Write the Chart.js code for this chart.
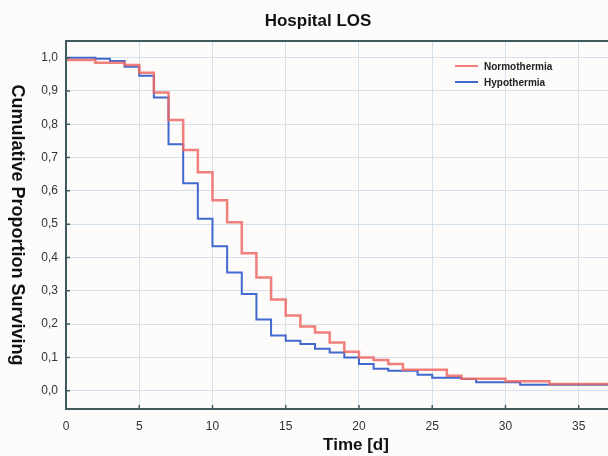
<!DOCTYPE html>
<html>
<head>
<meta charset="utf-8">
<script src="https://cdn.jsdelivr.net/npm/chart.js@4.4.1/dist/chart.umd.min.js"></script>
<style>
  body { margin: 0; background: #fdfcfb; }
  #wrap { width: 608px; height: 456px; position: relative; }
</style>
</head>
<body>
<div id="wrap"><canvas id="los-chart"></canvas></div>
<script>
// Kaplan-Meier steps (time in days, proportion surviving)
const normoTimes = [0, 2, 4, 5, 6, 7, 8, 9, 10, 11, 12, 13, 14, 15, 16, 17, 18, 19, 20, 21, 22, 23, 26, 27, 30, 33, 37];
const normoValues = [0.993, 0.985, 0.978, 0.955, 0.895, 0.813, 0.723, 0.656, 0.572, 0.506, 0.413, 0.34, 0.274, 0.226, 0.193, 0.175, 0.145, 0.117, 0.1, 0.092, 0.08, 0.063, 0.045, 0.036, 0.028, 0.02, 0.02];

const hypoTimes = [0, 2, 3, 4, 5, 6, 7, 8, 9, 10, 11, 12, 13, 14, 15, 16, 17, 18, 19, 20, 21, 22, 24, 25, 27, 28, 31, 37];
const hypoValues = [1.0, 0.997, 0.99, 0.973, 0.946, 0.88, 0.74, 0.623, 0.516, 0.434, 0.355, 0.29, 0.214, 0.166, 0.15, 0.14, 0.126, 0.115, 0.1, 0.08, 0.066, 0.06, 0.048, 0.039, 0.035, 0.025, 0.018, 0.018];

const seriesNames = ["Normothermia", "Hypothermia"];
const xTicks = [0, 5, 10, 15, 20, 25, 30, 35];
const yTicks = [0, 0.1, 0.2, 0.3, 0.4, 0.5, 0.6, 0.7, 0.8, 0.9, 1.0];

const redColor = "rgba(238, 104, 100, 0.85)";
const blueColor = "rgba(40, 84, 200, 0.88)";
const frameColor = "#3e5c5e";
const gridColor = "#d5e1ec";

function toPoints(ts, vs) {
  return ts.map((t, i) => ({ x: t, y: vs[i] }));
}

// frame, inner tick marks, titles and legend
const decorations = {
  id: "decorations",
  afterDraw(chart) {
    const ctx = chart.ctx;
    const a = chart.chartArea;
    const xs = chart.scales.x, ys = chart.scales.y;
    ctx.save();

    ctx.strokeStyle = frameColor;
    ctx.lineWidth = 2;
    ctx.beginPath();
    ctx.moveTo(a.right + 2, a.top);
    ctx.lineTo(a.left, a.top);
    ctx.lineTo(a.left, a.bottom);
    ctx.lineTo(a.right + 2, a.bottom);
    ctx.stroke();

    ctx.lineWidth = 1.5;
    ctx.beginPath();
    yTicks.forEach(v => {
      const py = ys.getPixelForValue(v);
      ctx.moveTo(a.left, py);
      ctx.lineTo(a.left + 4, py);
    });
    xTicks.forEach(v => {
      const px = xs.getPixelForValue(v);
      ctx.moveTo(px, a.bottom);
      ctx.lineTo(px, a.bottom - 4);
    });
    ctx.stroke();

    ctx.fillStyle = "#111";
    ctx.textAlign = "center";
    ctx.textBaseline = "alphabetic";
    ctx.font = "bold 17px 'Liberation Sans', Arial, sans-serif";
    ctx.fillText("Hospital LOS", 318, 26);
    ctx.fillText("Time [d]", 356, 450);

    ctx.save();
    ctx.translate(17, 225);
    ctx.rotate(Math.PI / 2);
    ctx.textBaseline = "middle";
    ctx.font = "bold 18px 'Liberation Sans', Arial, sans-serif";
    ctx.fillText("Cumulative Proportion Surviving", 0, 0);
    ctx.restore();

    const legendColors = [redColor, blueColor];
    ctx.font = "bold 10px 'Liberation Sans', Arial, sans-serif";
    ctx.textAlign = "left";
    ctx.textBaseline = "middle";
    seriesNames.forEach((name, i) => {
      const ly = 66 + i * 16;
      ctx.strokeStyle = legendColors[i];
      ctx.lineWidth = 2;
      ctx.beginPath();
      ctx.moveTo(455, ly);
      ctx.lineTo(478, ly);
      ctx.stroke();
      ctx.fillStyle = "#222";
      ctx.fillText(name, 484, ly + 1);
    });

    ctx.restore();
  }
};

const ctx = document.getElementById("los-chart").getContext("2d");
new Chart(ctx, {
  type: "line",
  data: {
    datasets: [
      {
        label: seriesNames[0],
        data: toPoints(normoTimes, normoValues),
        borderColor: redColor,
        borderWidth: 2.5,
        stepped: true,
        pointRadius: 0,
        fill: false
      },
      {
        label: seriesNames[1],
        data: toPoints(hypoTimes, hypoValues),
        borderColor: blueColor,
        borderWidth: 2,
        stepped: true,
        pointRadius: 0,
        fill: false
      }
    ]
  },
  options: {
    responsive: true,
    maintainAspectRatio: false,
    animation: false,
    layout: { padding: { top: 41, right: 0, bottom: 0, left: 0 } },
    plugins: {
      legend: { display: false },
      title: { display: false },
      tooltip: { enabled: false }
    },
    scales: {
      x: {
        type: "linear",
        min: 0,
        max: 37,
        afterBuildTicks: scale => { scale.ticks = xTicks.map(v => ({ value: v })); },
        afterFit: scale => { scale.height = 47; },
        grid: { color: gridColor, drawTicks: false },
        border: { display: false },
        ticks: {
          padding: 10,
          color: "#333",
          font: { family: "'Liberation Sans', Arial, sans-serif", size: 12 },
          maxRotation: 0
        }
      },
      y: {
        min: -0.055,
        max: 1.05,
        afterBuildTicks: scale => { scale.ticks = yTicks.map(v => ({ value: v })); },
        afterFit: scale => { scale.width = 66; },
        grid: { color: gridColor, drawTicks: false },
        border: { display: false },
        ticks: {
          padding: 8,
          color: "#333",
          font: { family: "'Liberation Sans', Arial, sans-serif", size: 12 },
          callback: v => v.toFixed(1).replace(".", ",")
        }
      }
    }
  },
  plugins: [decorations]
});
</script>
</body>
</html>
